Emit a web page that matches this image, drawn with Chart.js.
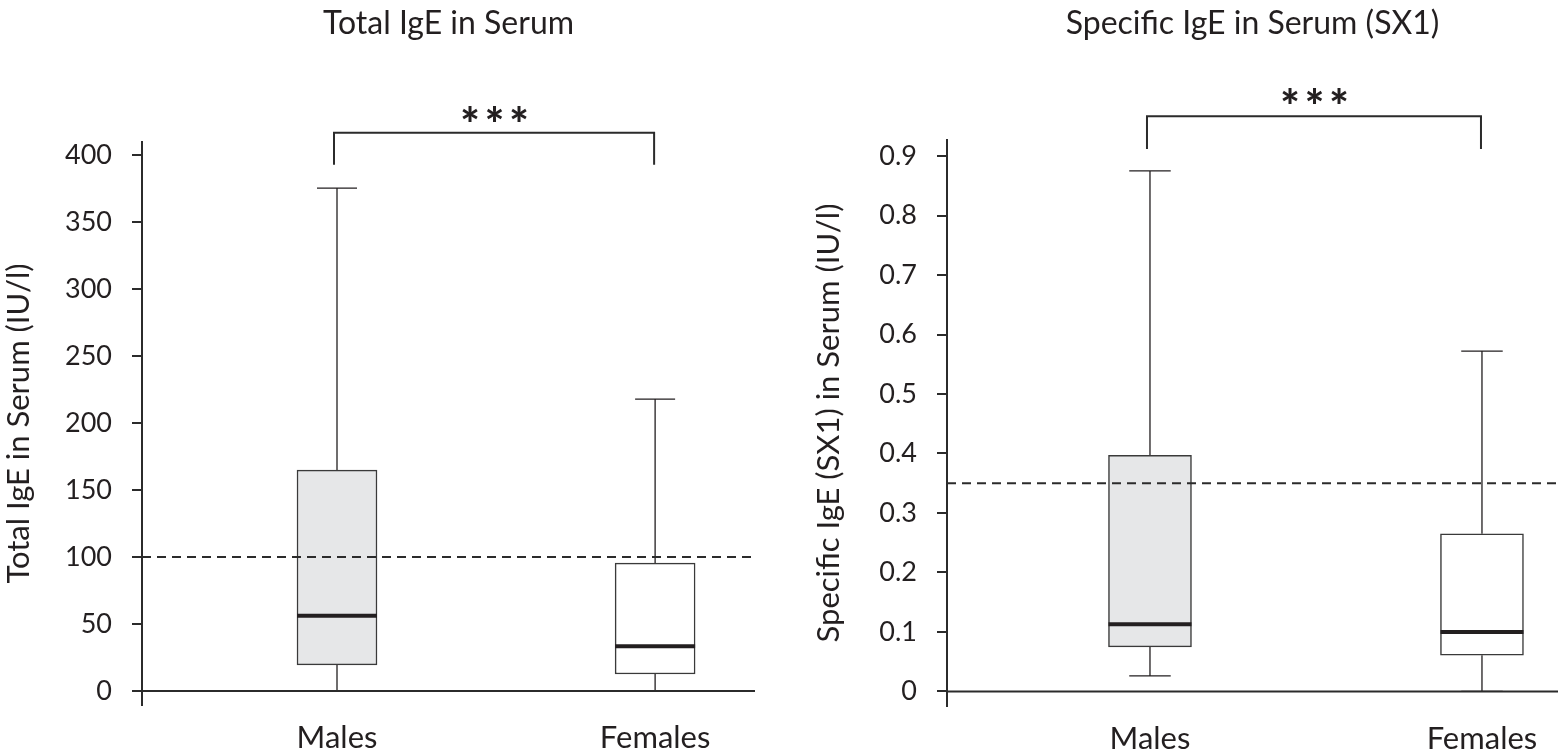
<!DOCTYPE html>
<html>
<head>
<meta charset="utf-8">
<script src="https://cdn.jsdelivr.net/npm/chart.js@4.4.1/dist/chart.umd.min.js"></script>
<style>
  body { margin: 0; background: #fff; }
  #wrap { position: relative; width: 1558px; height: 753px; }
  #leftChart { position: absolute; left: 0; top: 0; }
  #rightChart { position: absolute; left: 780px; top: 0; }
</style>
</head>
<body>
<div id="wrap">
  <canvas id="leftChart" width="780" height="753"></canvas>
  <canvas id="rightChart" width="778" height="753"></canvas>
</div>
<script>
const categories = ['Males', 'Females'];

// Total IgE in serum (IU/l)
const totalLow = [0, 0];
const totalQ1 = [19.5, 12.7];
const totalMedian = [56.2, 33.5];
const totalQ3 = [165, 95.5];
const totalHigh = [375.5, 218];
const totalCutoff = 100;
const totalTicks = [0, 50, 100, 150, 200, 250, 300, 350, 400];

// Specific IgE (SX1) in serum (IU/l)
const specLow = [0.026, 0];
const specQ1 = [0.075, 0.061];
const specMedian = [0.113, 0.100];
const specQ3 = [0.397, 0.265];
const specHigh = [0.875, 0.572];
const specCutoff = 0.35;
const specTicks = [0, 0.1, 0.2, 0.3, 0.4, 0.5, 0.6, 0.7, 0.8, 0.9];

const ink = '#231f20';
const font = 'Lato';
const boxFills = ['#e6e7e8', '#ffffff'];

function extras(low, med, high, sig, capW) {
  return {
    id: 'boxExtras',
    beforeDatasetsDraw(chart) {
      const { ctx, scales: { x, y } } = chart;
      const q1 = chart.data.datasets[1].data.map(d => d.y[0]);
      const q3 = chart.data.datasets[1].data.map(d => d.y[1]);
      ctx.save();
      ctx.strokeStyle = ink;
      ctx.lineWidth = 1.3;
      categories.forEach((c, i) => {
        const cx = x.getPixelForValue(i + 1);
        ctx.beginPath();
        ctx.moveTo(cx, y.getPixelForValue(q3[i]));
        ctx.lineTo(cx, y.getPixelForValue(high[i]));
        ctx.moveTo(cx - capW / 2, y.getPixelForValue(high[i]));
        ctx.lineTo(cx + capW / 2, y.getPixelForValue(high[i]));
        ctx.moveTo(cx, y.getPixelForValue(q1[i]));
        ctx.lineTo(cx, y.getPixelForValue(low[i]));
        ctx.moveTo(cx - capW / 2, y.getPixelForValue(low[i]));
        ctx.lineTo(cx + capW / 2, y.getPixelForValue(low[i]));
        ctx.stroke();
      });
      ctx.restore();
    },
    afterDatasetsDraw(chart) {
      const { ctx, chartArea, scales: { x, y } } = chart;
      const barW = chart.getDatasetMeta(1).data[0].width;
      ctx.save();
      // baseline at zero
      const y0 = y.getPixelForValue(0);
      ctx.strokeStyle = '#2b2b2b';
      ctx.lineWidth = 2;
      ctx.beginPath();
      ctx.moveTo(chartArea.left, y0);
      ctx.lineTo(chartArea.right, y0);
      ctx.stroke();
      // medians
      ctx.strokeStyle = ink;
      ctx.lineWidth = 4;
      med.forEach((m, i) => {
        const cx = x.getPixelForValue(i + 1);
        ctx.beginPath();
        ctx.moveTo(cx - barW / 2, y.getPixelForValue(m));
        ctx.lineTo(cx + barW / 2, y.getPixelForValue(m));
        ctx.stroke();
      });
      // significance bracket
      const xa = x.getPixelForValue(1) - 3, xb = x.getPixelForValue(2) - 1;
      const yt = y.getPixelForValue(sig.top), yf = y.getPixelForValue(sig.foot);
      ctx.lineWidth = 2;
      ctx.strokeStyle = '#2b2b2b';
      ctx.beginPath();
      ctx.moveTo(xa, yf);
      ctx.lineTo(xa, yt);
      ctx.lineTo(xb, yt);
      ctx.lineTo(xb, yf);
      ctx.stroke();
      ctx.fillStyle = ink;
      ctx.font = '900 46px ' + font;
      ctx.letterSpacing = '5px';
      ctx.textAlign = 'center';
      ctx.textBaseline = 'middle';
      ctx.fillText('***', (xa + xb) / 2 + 3, y.getPixelForValue(sig.text));
      ctx.restore();
    }
  };
}

function makeChart(id, o) {
  const ctx = document.getElementById(id).getContext('2d');
  return new Chart(ctx, {
    type: 'bar',
    data: {
      datasets: [{
        type: 'line',
        data: [{ x: o.xMin, y: o.cutoff }, { x: o.xMax, y: o.cutoff }],
        borderColor: '#2b2b2b',
        borderWidth: 2,
        borderDash: [9, 6],
        pointRadius: 0,
        order: 0
      }, {
        data: categories.map((c, i) => ({ x: i + 1, y: [o.q1[i], o.q3[i]] })),
        backgroundColor: boxFills,
        borderColor: '#3a3a3a',
        borderWidth: 1.5,
        borderSkipped: false,
        barThickness: o.barW,
        order: 1
      }]
    },
    options: {
      responsive: false,
      animation: false,
      layout: { padding: { left: o.padLeft, right: o.padRight, top: 0, bottom: 0 } },
      plugins: {
        legend: { display: false },
        tooltip: { enabled: false },
        title: {
          display: true,
          text: o.title,
          fullSize: false,
          color: ink,
          font: { family: font, size: 32, weight: 'normal' },
          padding: { top: 4, bottom: o.titleGap }
        }
      },
      scales: {
        x: {
          type: 'linear',
          offset: false,
          min: o.xMin,
          max: o.xMax,
          afterBuildTicks: s => { s.ticks = categories.map((c, i) => ({ value: i + 1 })); },
          afterFit: s => { s.height = o.xHeight; },
          grid: { display: false, drawTicks: false },
          border: { display: false },
          ticks: {
            color: ink,
            padding: 14,
            font: { family: font, size: 31 },
            callback: v => categories[v - 1]
          }
        },
        y: {
          min: o.yMin,
          max: o.yMax,
          afterBuildTicks: s => { s.ticks = o.ticks.map(v => ({ value: v })); },
          afterFit: s => { s.width = o.yWidth; },
          grid: { drawOnChartArea: false, drawTicks: true, tickLength: 10, color: '#2b2b2b', lineWidth: 2 },
          border: { display: true, color: '#2b2b2b', width: 2 },
          ticks: {
            color: ink,
            padding: 20,
            font: { family: font, size: 27 },
            callback: v => String(v)
          },
          title: {
            display: true,
            text: o.yTitle,
            color: ink,
            padding: 0,
            font: { family: font, size: 31 }
          }
        }
      }
    },
    plugins: [extras(o.low, o.median, o.high, o.sig, o.barW / 2)]
  });
}

makeChart('leftChart', {
  title: 'Total IgE in Serum',
  yTitle: 'Total IgE in Serum (IU/l)',
  low: totalLow, q1: totalQ1, median: totalMedian, q3: totalQ3, high: totalHigh,
  cutoff: totalCutoff, ticks: totalTicks,
  yMin: -10.45, yMax: 410,
  xMin: 0.387, xMax: 2.314,
  barW: 80, padLeft: 0, padRight: 25, yWidth: 142, xHeight: 48, titleGap: 99.6,
  sig: { top: 417, foot: 393, text: 422 }
});

makeChart('rightChart', {
  title: 'Specific IgE in Serum (SX1)',
  yTitle: 'Specific IgE (SX1) in Serum (IU/l)',
  low: specLow, q1: specQ1, median: specMedian, q3: specQ3, high: specHigh,
  cutoff: specCutoff, ticks: specTicks,
  yMin: -0.0245, yMax: 0.927,
  xMin: 0.3886, xMax: 2.229,
  barW: 83, padLeft: 30, padRight: 0, yWidth: 137, xHeight: 47, titleGap: 97.6,
  sig: { top: 0.967, foot: 0.912, text: 0.980 }
});
</script>
</body>
</html>
